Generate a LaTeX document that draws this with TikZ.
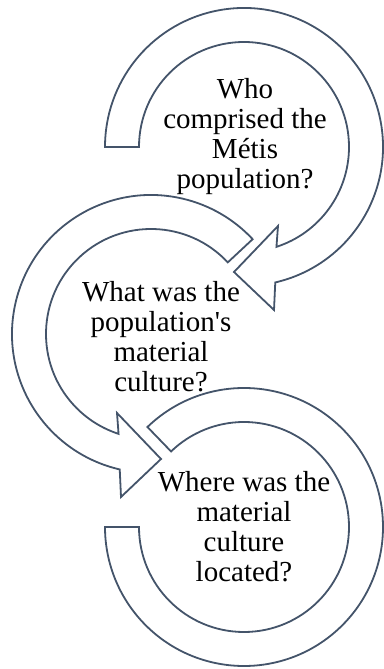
\documentclass[tikz,border=0pt]{standalone}
\usepackage{fontspec}
\setmainfont{Liberation Serif}
\definecolor{rimblue}{HTML}{44546A}

\begin{document}
\begin{tikzpicture}[x=1pt, y=1pt,
    band/.style={draw=rimblue, fill=white, line width=1.8pt},
    question/.style={align=center, inner sep=0pt,
                     font=\fontsize{29}{30}\selectfont}]
  \useasboundingbox (0,0) rectangle (383,669);
  \coordinate (c1) at (244,522);
  \coordinate (c2) at (151,335);
  \coordinate (c3) at (244,142);

  % Arrows round the circles
  \draw[band, shift={(c1)}] (180:139) -- (180:105)
    arc[start angle=180, end angle=-72, radius=105]
    -- (34,-79) -- (-10,-125) -- (30,-163) -- (-77:139)
    arc[start angle=-77, end angle=180, radius=139] -- cycle;
  \draw[band, shift={(c2)}] (43:139) -- (43:105)
    arc[start angle=43, end angle=252, radius=105]
    -- (-34,-79) -- (10,-125) -- (-30,-163) -- (257:139)
    arc[start angle=257, end angle=43, radius=139] -- cycle;
  \draw[band, shift={(c3)}] (180:139) -- (180:105)
    arc[start angle=180, end angle=494, radius=105] -- (134:139)
    arc[start angle=134, end angle=-180, radius=139] -- cycle;

  % Questions
  \node[question] (who) at (245,532) {Who\\comprised the\\Métis\\population?};
  \node[question] (what) at (161,332) {What was the\\population\textquotesingle s\\material\\culture?};
  \node[question] (where) at (244,142) {Where was the\\material\\culture\\located?};
\end{tikzpicture}
\end{document}
